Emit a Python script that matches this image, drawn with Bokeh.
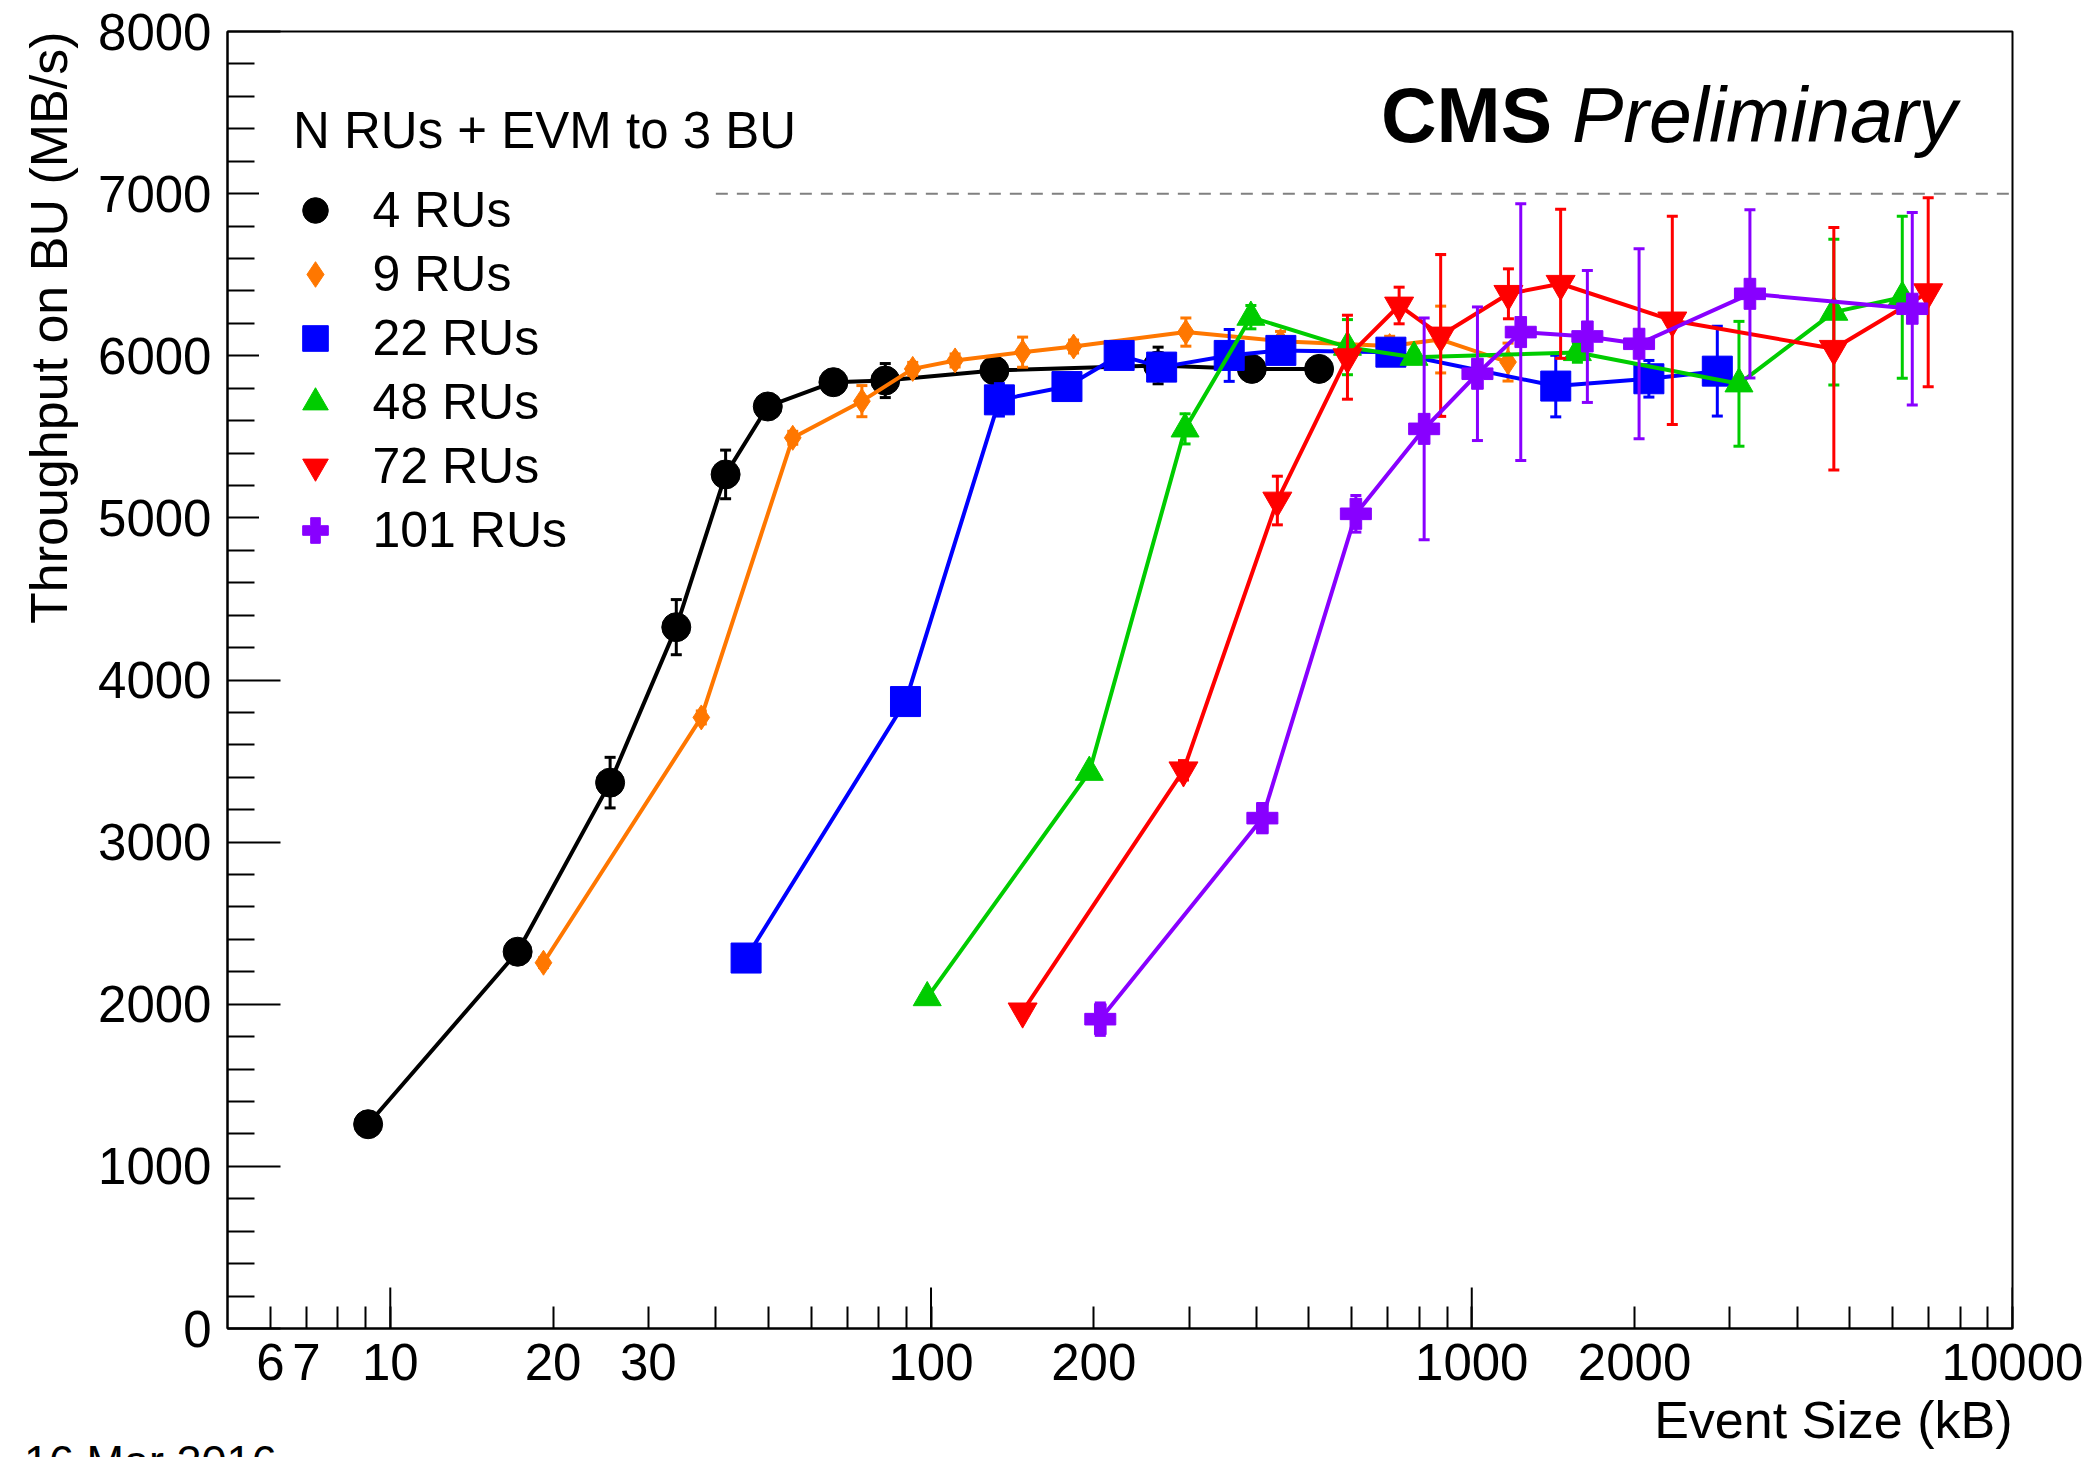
import math
from bokeh.plotting import figure
from bokeh.layouts import column
from bokeh.models import (FixedTicker, Label, Legend, LegendItem, ColumnDataSource,
                          Range1d, BasicTickFormatter, Div, Title)
from bokeh.embed import file_html
from bokeh.resources import INLINE

FONT = "Liberation Sans"

# ---------------- data ----------------
x_4 = [9.1, 17.2, 25.5, 33.8, 41.7, 49.9, 66.0, 82.3, 131, 263, 392, 522]
y_4 = [1260, 2324, 3367, 4326, 5268, 5687, 5837, 5847, 5909, 5940, 5919, 5919]
e_4 = [0, 0, 156, 170, 150, 60, 50, 105, 60, 113, 40, 40]

x_9 = [19.2, 37.6, 55.5, 74.5, 92.5, 110.8, 147.7, 183.5, 296, 443, 705, 876, 1167]
y_9 = [2256, 3769, 5494, 5720, 5919, 5971, 6022, 6057, 6146, 6090, 6060, 6100, 5961]
e_9 = [30, 40, 40, 96, 40, 40, 93, 40, 87, 60, 60, 206, 117]

x_22 = [45.5, 89.7, 133.8, 178.4, 222.8, 267, 356, 443.6, 708.7, 1430, 2126, 2845]
y_22 = [2285, 3867, 5728, 5810, 6002, 5930, 6002, 6033, 6022, 5813, 5858, 5905]
e_22 = [0, 0, 100, 40, 40, 40, 160, 40, 40, 190, 113, 277]

x_48 = [98.4, 196.2, 295, 390.4, 589, 782, 1568, 3120, 4673, 6254]
y_48 = [2041, 3431, 5549, 6238, 6053, 5991, 6020, 5827, 6269, 6361]
e_48 = [0, 0, 93, 72, 170, 40, 60, 385, 450, 500]

x_72 = [147.7, 293, 437, 589, 734, 876, 1169, 1460, 2349, 4673, 6984]
y_72 = [1956, 3443, 5107, 5991, 6310, 6125, 6382, 6444, 6218, 6043, 6392]
e_72 = [0, 60, 150, 259, 113, 499, 154, 460, 642, 748, 583]

x_101 = [205.6, 410, 610.5, 816.5, 1024.5, 1232, 1636, 2039, 3269, 6526]
y_101 = [1908, 3148, 5025, 5549, 5889, 6146, 6119, 6074, 6382, 6290]
e_101 = [100, 90, 113, 684, 412, 792, 407, 586, 519, 594]

series_names = ["4 RUs", "9 RUs", "22 RUs", "48 RUs", "72 RUs", "101 RUs"]
legend_title = "N RUs + EVM to 3 BU"

limit_x = [40, 10000]
limit_y = 7000

x_range = (5, 10000)
y_range = (0, 8000)
xtick_values = [6, 7, 10, 20, 30, 100, 200, 1000, 2000, 10000]
xtick_labels = ["6", "7", "10", "20", "30", "100", "200", "1000", "2000", "10000"]
x_decades = [10, 100, 1000, 10000]
xminor_values = [8, 9, 40, 50, 60, 70, 80, 90, 300, 400, 500, 600, 700, 800, 900,
                 3000, 4000, 5000, 6000, 7000, 8000, 9000]
ytick_values = [0, 1000, 2000, 3000, 4000, 5000, 6000, 7000, 8000]
yminor_values = [v for v in range(0, 8001, 200) if v % 1000 != 0]

# ---------------- figure ----------------
W, H = 2097, 1457
FL, FT, FR, FB = 227, 31, 85, 129   # frame borders in px
frame_h = H - FT - FB

p = figure(width=W, height=H, x_axis_type="log",
           x_range=Range1d(*x_range), y_range=Range1d(*y_range),
           output_backend="svg", toolbar_location=None,
           min_border_left=FL, min_border_top=FT, min_border_right=FR, min_border_bottom=FB)
p.xgrid.visible = False
p.ygrid.visible = False
p.outline_line_color = "black"
p.outline_line_width = 2
p.background_fill_color = "white"
p.border_fill_color = "white"

# y axis
ya = p.yaxis[0]
ya.ticker = FixedTicker(ticks=ytick_values, minor_ticks=yminor_values)
ya.major_tick_in = 53
ya.major_tick_out = 0
ya.minor_tick_in = 27
ya.minor_tick_out = 0
ya.major_tick_line_width = 2
ya.minor_tick_line_width = 2
ya.axis_line_width = 2
ya.major_label_text_font = FONT
ya.major_label_text_font_size = "51px"
ya.major_label_text_color = "black"
ya.major_label_standoff = 16

# x axis
xa = p.xaxis[0]
xa.ticker = FixedTicker(ticks=xtick_values, minor_ticks=xminor_values)
xa.formatter = BasicTickFormatter(use_scientific=False)
xa.major_label_overrides = {v: s for v, s in zip(xtick_values, xtick_labels)}
xa.major_tick_in = 22
xa.major_tick_out = 0
xa.minor_tick_in = 22
xa.minor_tick_out = 0
xa.major_tick_line_width = 2
xa.minor_tick_line_width = 2
xa.axis_line_width = 2
xa.major_label_text_font = FONT
xa.major_label_text_font_size = "51px"
xa.major_label_text_color = "black"
xa.major_label_standoff = 15

# axis titles, aligned to the axis ends as in the original
p.add_layout(Title(text="Event Size (kB)", align="right", vertical_align="bottom", standoff=12,
                   text_font=FONT, text_font_size="52px", text_font_style="normal",
                   text_color="black"), "below")
p.add_layout(Title(text="Throughput on BU (MB/s)", align="right", vertical_align="bottom",
                   standoff=35, text_font=FONT, text_font_size="52px",
                   text_font_style="normal", text_color="black"), "left")

# longer ticks at the decades (41 px tall)
dec_len = 41 * (y_range[1] - y_range[0]) / frame_h
p.segment(x0=x_decades, y0=[y_range[0]] * len(x_decades), x1=x_decades,
          y1=[y_range[0] + dec_len] * len(x_decades), line_color="black", line_width=2)

# dashed reference line
p.line(x=limit_x, y=[limit_y, limit_y], line_color="#808080", line_width=2, line_dash="12 9")

colors = ["#000000", "#ff7700", "#0000ff", "#00cc00", "#ff0000", "#8800ff"]
markers = ["circle", "diamond", "square", "triangle", "inverted_triangle", "plus"]
sizes = [29, 25, 30, 28, 29, 31]
xs_all = [x_4, x_9, x_22, x_48, x_72, x_101]
ys_all = [y_4, y_9, y_22, y_48, y_72, y_101]
es_all = [e_4, e_9, e_22, e_48, e_72, e_101]

items = []
for name, xs, ys, es, col, mk, sz in zip(series_names, xs_all, ys_all, es_all, colors, markers, sizes):
    src = ColumnDataSource(dict(x=xs, y=ys,
                                lo=[y - e for y, e in zip(ys, es)],
                                hi=[y + e for y, e in zip(ys, es)]))
    p.segment(x0="x", y0="lo", x1="x", y1="hi", source=src, line_color=col, line_width=3)
    p.scatter(x="x", y="lo", marker="dash", size=11, line_color=col, line_width=3, source=src)
    p.scatter(x="x", y="hi", marker="dash", size=11, line_color=col, line_width=3, source=src)
    p.line(x="x", y="y", source=src, line_color=col, line_width=4)
    r = p.scatter(x="x", y="y", marker=mk, size=sz, fill_color=col, line_color=col, source=src)
    items.append(LegendItem(label=name, renderers=[r]))

legend = Legend(items=items, location=(31.5, 742),
                label_text_font=FONT, label_text_font_size="50px", label_text_color="black",
                padding=24, spacing=0, margin=0, glyph_width=64, glyph_height=64,
                label_height=64, label_width=288, label_standoff=26,
                border_line_alpha=0, background_fill_color="white", background_fill_alpha=1.0)
p.add_layout(legend)

# legend header (drawn above the legend box)
p.add_layout(Label(x=65.5, y=1198.5, x_units="screen", y_units="screen", text=legend_title,
                   text_font=FONT, text_font_size="51px", text_color="black",
                   text_baseline="middle", level="overlay"))

# CMS Preliminary
p.add_layout(Label(x=1153.5, y=1214, x_units="screen", y_units="screen", text="CMS",
                   text_font=FONT, text_font_size="77px", text_font_style="bold",
                   text_color="black", text_baseline="middle", level="overlay"))
p.add_layout(Label(x=1344.5, y=1214, x_units="screen", y_units="screen", text="Preliminary",
                   text_font=FONT, text_font_size="77px", text_font_style="italic",
                   text_color="black", text_baseline="middle", level="overlay"))

# date stamp at the bottom-left, mostly cut by the page edge
date = Div(text="16 Mar 2016", width=400, height=18, margin=(-18, 0, 0, 24),
           styles={"overflow": "hidden", "font-family": FONT, "font-size": "45px",
                   "line-height": "45px", "color": "black"})

layout = column(p, date, spacing=0)
open("out.html", "w").write(file_html(layout, INLINE))
